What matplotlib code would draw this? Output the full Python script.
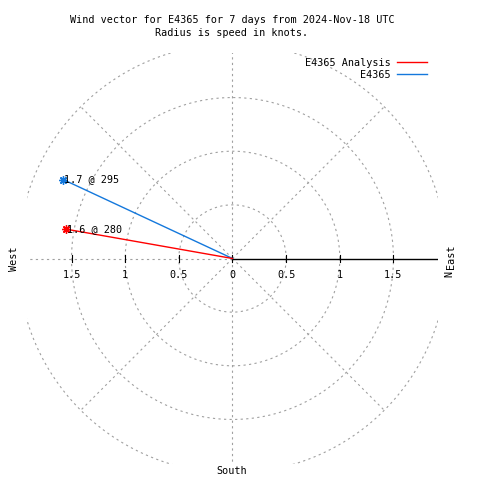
import matplotlib
matplotlib.use('Agg')
import matplotlib.pyplot as plt
import numpy as np

# wind data: speed in knots, direction in degrees (compass, wind from)
names = ["E4365", "E4365 Analysis"]
speeds = [1.74, 1.58]
directions = [295, 280]
colors = ['#1478dc', '#ff0000']

rings = [0.5, 1.0, 1.5, 2.0]
spokes = [0, 45, 90, 135, 180, 225, 270, 315]
ticks = [-1.5, -1.0, -0.5, 0.0, 0.5, 1.0, 1.5]
tick_labels = ["1.5", "1", "0.5", "0", "0.5", "1", "1.5"]

title = "Wind vector for E4365 for 7 days from 2024-Nov-18 UTC\nRadius is speed in knots."

FONT = 'DejaVu Sans Mono'
FS = 7.3
GRID = '#a0a0a0'
LIM = 1.915


def Compass(speed, direction):
    a = np.radians(90 - direction)
    return speed * np.cos(a), speed * np.sin(a)


fig = plt.figure(figsize=(4.8, 4.8), dpi=100)
ax = fig.add_axes([27 / 480, 16 / 480, 411 / 480, 411 / 480])
ax.set_xlim(-LIM, LIM)
ax.set_ylim(-LIM, LIM)
ax.axis('off')

# Draw grid circles
t = np.linspace(0, 2 * np.pi, 400)
for r in rings:
    ax.plot(r * np.cos(t), r * np.sin(t), color=GRID, lw=0.8,
            dashes=(2, 3), clip_on=True)

# Draw spokes (positive x is the solid r axis)
for s in spokes:
    if s == 0:
        continue
    a = np.radians(s)
    ax.plot([0, 2 * np.cos(a)], [0, 2 * np.sin(a)], color=GRID, lw=0.8,
            dashes=(2, 3), clip_on=True)
ax.plot([0, LIM], [0, 0], color='black', lw=1.0)

# Tick marks and labels
for i, tk in enumerate(ticks):
    ax.plot([tk, tk], [-0.037, 0.037], color='black', lw=0.8)
    ax.annotate(tick_labels[i], xy=(tk, 0), xytext=(0, -17),
                textcoords='offset pixels', ha='center', va='center',
                family=FONT, fontsize=FS)

# Draw vectors
for i in range(len(speeds)):
    x, y = Compass(speeds[i], directions[i])
    ax.plot([0, x], [0, y], color=colors[i], lw=1.0)
    ax.plot(x, y, marker=(8, 2, 0), markersize=6, color=colors[i], mew=1.0)
    ax.annotate(f"{speeds[i]:.1f} @ {directions[i]}", xy=(x, y),
                xytext=(1, 0), textcoords='offset pixels',
                ha='left', va='center', family=FONT, fontsize=FS)

# Compass labels
fig.text(14 / 480, 1 - 259 / 480, "West", rotation=90, ha='center',
         va='center', family=FONT, fontsize=FS)
fig.text(451 / 480, 1 - 257 / 480, "East", rotation=90, ha='center',
         va='center', family=FONT, fontsize=FS)
fig.text(449 / 480, 1 - 274 / 480, "N", rotation=90, ha='center',
         va='center', family=FONT, fontsize=FS)
fig.text(232 / 480, 1 - 471 / 480, "South", ha='center',
         va='center', family=FONT, fontsize=FS)

# Title
fig.text(232 / 480, 1 - 26.5 / 480, title, ha='center', va='center',
         family=FONT, fontsize=FS, linespacing=1.35)

# Legend
legend_y = [75, 63]
for i in range(len(names)):
    yy = 1 - legend_y[i] / 480
    fig.text(391 / 480, yy, names[i], ha='right', va='center',
             family=FONT, fontsize=FS)
    fig.add_artist(plt.Line2D([397 / 480, 427 / 480], [yy + 0.002, yy + 0.002],
                              color=colors[i], lw=1.0))

fig.savefig('out.png', dpi=100)
